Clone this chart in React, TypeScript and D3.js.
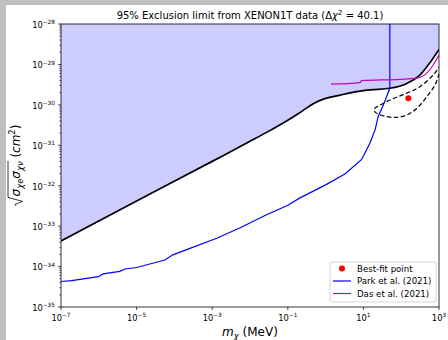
import React, { useEffect, useRef } from "react";
import * as d3 from "d3";

const W = 448;
const H = 340;
const FONT = "DejaVu Sans";

// Exclusion boundary (black, filled above)
const boundMass = [1e-7, 1e-5, 1e-3, 1e-2, 3.16e-2, 1e-1, 0.25, 0.5, 1, 2.4, 5.25, 15, 50, 141, 316, 575, 1000];
const boundSigma = [4.27e-34, 4.2e-33, 4.0e-32, 1.25e-31, 2.24e-31, 4.17e-31, 7.2e-31, 1.1e-30, 1.45e-30, 1.74e-30, 2.04e-30, 2.34e-30, 2.57e-30, 3.39e-30, 5.5e-30, 1.1e-29, 2.34e-29];

// Park et al. (2021)
const parkMass = [1e-7, 1.9e-7, 9.8e-7, 1.29e-6, 3.6e-6, 4.9e-6, 1e-5, 5.6e-5, 9.1e-5, 2.57e-4, 1.32e-3, 5.5e-3, 2.34e-2, 0.1, 0.21, 1, 3.24, 9.0, 14.8, 20.4, 24.5, 33.9, 50, 50];
const parkSigma = [4.27e-35, 4.47e-35, 5.62e-35, 6.6e-35, 7.6e-35, 8.7e-35, 9.5e-35, 1.45e-34, 1.95e-34, 2.82e-34, 5.0e-34, 9.1e-34, 1.78e-33, 3.3e-33, 5.0e-33, 1.05e-32, 1.95e-32, 4.47e-32, 1.12e-31, 2.4e-31, 5.1e-31, 1.0e-30, 2.57e-30, 1e-28];

// Das et al. (2021)
const dasMass = [1.39, 8.13, 9.0, 93, 257, 468, 708, 1000];
const dasSigma = [3.24e-30, 3.55e-30, 3.98e-30, 4.27e-30, 4.57e-30, 6.0e-30, 9.8e-30, 1.7e-29];

// Dashed confidence contour
const contourMass = [1413, 1019, 708, 314, 140, 50.6, 24.8, 19.1, 20.9, 24.8, 41.3, 75.9, 140, 257, 473, 783, 1019, 1259];
const contourSigma = [1.41e-29, 8.7e-30, 5.5e-30, 2.82e-30, 1.95e-30, 1.32e-30, 9.3e-31, 7.8e-31, 6.5e-31, 5.9e-31, 5.1e-31, 4.9e-31, 5.6e-31, 8.1e-31, 1.58e-30, 3.1e-30, 6.0e-30, 1.0e-29];

// Best-fit point
const bestFitMass = [155];
const bestFitSigma = [1.45e-30];

const xTickExps = [-7, -5, -3, -1, 1, 3];
const yTickExps = [-35, -34, -33, -32, -31, -30, -29, -28];
const legendLabels = ["Best-fit point", "Park et al. (2021)", "Das et al. (2021)"];
const legendColors = ["#ff0000", "#0000ff", "#bf00bf"];

type Part = { t: string; italic?: boolean; scale?: number; dy?: number };

function drawParts(g: any, parts: Part[], fs: number, startX = 0) {
  let cx = startX;
  const spans: [number, number][] = [];
  parts.forEach((p) => {
    const size = fs * (p.scale ?? 1);
    const el = g
      .append("text")
      .attr("x", cx)
      .attr("y", p.dy ?? 0)
      .attr("font-size", size)
      .attr("font-family", FONT)
      .attr("font-style", p.italic ? "italic" : "normal")
      .attr("fill", "#000")
      .style("white-space", "pre")
      .text(p.t);
    const w = (el.node() as SVGTextElement).getComputedTextLength();
    spans.push([cx, cx + w]);
    cx += w;
  });
  return { width: cx, spans };
}

export default function App() {
  const ref = useRef<SVGSVGElement>(null);

  useEffect(() => {
    const svg = d3.select(ref.current);
    svg.selectAll("*").remove();

    const L = 61, R = 439, T = 24, B = 307;
    const x = d3.scaleLog().domain([1e-7, 1e3]).range([L, R]);
    const y = d3.scaleLog().domain([1e-35, 1e-28]).range([B, T]);

    // page background
    svg.append("rect").attr("width", W).attr("height", H).attr("fill", "#bfbfbf");
    svg.append("rect").attr("x", 6).attr("y", 5).attr("width", W - 6).attr("height", H - 5).attr("fill", "#fff");

    svg.append("defs").append("clipPath").attr("id", "plotclip")
      .append("rect").attr("x", L).attr("y", T).attr("width", R - L).attr("height", B - T);

    const plot = svg.append("g").attr("clip-path", "url(#plotclip)");

    const bound = boundMass.map((m, i) => [m, boundSigma[i]] as [number, number]);
    const area = d3.area<[number, number]>()
      .x((d) => x(d[0])).y0(T).y1((d) => y(d[1])).curve(d3.curveMonotoneX);
    plot.append("path").attr("d", area(bound)!).attr("fill", "#ccccff");

    const lineMono = d3.line<[number, number]>().x((d) => x(d[0])).y((d) => y(d[1])).curve(d3.curveMonotoneX);
    const lineLin = d3.line<[number, number]>().x((d) => x(d[0])).y((d) => y(d[1]));
    const lineCR = d3.line<[number, number]>().x((d) => x(d[0])).y((d) => y(d[1])).curve(d3.curveCatmullRom.alpha(0.5));

    plot.append("path").attr("d", lineMono(bound)!).attr("fill", "none").attr("stroke", "#000").attr("stroke-width", 1.7);

    const park = parkMass.map((m, i) => [m, parkSigma[i]] as [number, number]);
    plot.append("path").attr("d", lineLin(park)!).attr("fill", "none").attr("stroke", "#0000ff").attr("stroke-width", 1.2);

    const das = dasMass.map((m, i) => [m, dasSigma[i]] as [number, number]);
    plot.append("path").attr("d", lineMono(das)!).attr("fill", "none").attr("stroke", "#bf00bf").attr("stroke-width", 1.2);

    const contour = contourMass.map((m, i) => [m, contourSigma[i]] as [number, number]);
    plot.append("path").attr("d", lineCR(contour)!).attr("fill", "none").attr("stroke", "#000")
      .attr("stroke-width", 1.2).attr("stroke-dasharray", "4.5,2.5");

    bestFitMass.forEach((m, i) => {
      plot.append("circle").attr("cx", x(m)).attr("cy", y(bestFitSigma[i])).attr("r", 3).attr("fill", "#ff0000");
    });

    // spines
    svg.append("rect").attr("x", L).attr("y", T).attr("width", R - L).attr("height", B - T)
      .attr("fill", "none").attr("stroke", "#000").attr("stroke-width", 0.8);

    // y ticks
    for (let e = -35; e < -28; e++) {
      for (let k = 2; k <= 9; k++) {
        const yy = y(k * Math.pow(10, e));
        svg.append("line").attr("x1", L - 1.7).attr("x2", L).attr("y1", yy).attr("y2", yy).attr("stroke", "#000").attr("stroke-width", 0.6);
      }
    }
    yTickExps.forEach((e) => {
      const yy = y(Math.pow(10, e));
      svg.append("line").attr("x1", L - 3).attr("x2", L).attr("y1", yy).attr("y2", yy).attr("stroke", "#000").attr("stroke-width", 0.7);
      const g = svg.append("g");
      const { width } = drawParts(g, [{ t: "10" }, { t: "\u2212" + Math.abs(e), scale: 0.7, dy: -3.6 }], 8.3);
      g.attr("transform", `translate(${55 - width},${yy + 3.8})`);
    });

    // x ticks
    xTickExps.forEach((e) => {
      const xx = x(Math.pow(10, e));
      svg.append("line").attr("x1", xx).attr("x2", xx).attr("y1", B).attr("y2", B + 3).attr("stroke", "#000").attr("stroke-width", 0.7);
      const g = svg.append("g");
      const sup = e < 0 ? "\u2212" + Math.abs(e) : String(e);
      const { width } = drawParts(g, [{ t: "10" }, { t: sup, scale: 0.7, dy: -3.6 }], 8.3);
      g.attr("transform", `translate(${xx - width / 2},${321})`);
    });

    // title
    {
      const g = svg.append("g");
      const { width } = drawParts(g, [
        { t: "95% Exclusion limit from XENON1T data (" },
        { t: "\u0394" },
        { t: "\u03c7", italic: true },
        { t: "2", scale: 0.7, dy: -4 },
        { t: " = 40.1)" },
      ], 10);
      g.attr("transform", `translate(${(L + R) / 2 - width / 2},19)`);
    }

    // x label
    {
      const g = svg.append("g");
      const { width } = drawParts(g, [
        { t: "m", italic: true },
        { t: "\u03c7", italic: true, scale: 0.7, dy: 2.5 },
        { t: " (MeV)" },
      ], 12);
      g.attr("transform", `translate(${(L + R) / 2 - width / 2},336)`);
    }

    // y label
    {
      const g = svg.append("g");
      const { width, spans } = drawParts(g, [
        { t: "\u03c3", italic: true },
        { t: "\u03c7e", italic: true, scale: 0.7, dy: 2.8 },
        { t: "\u03c3", italic: true },
        { t: "\u03c7\u03bd", italic: true, scale: 0.7, dy: 2.8 },
        { t: " (" },
        { t: "cm", italic: true },
        { t: "2", scale: 0.7, dy: -5 },
        { t: ")" },
      ], 12, 10);
      const barEnd = spans[3][1] + 0.5;
      g.append("path")
        .attr("d", `M0.5,-4 L2,-5 L5,2.5 L9,-12 L${barEnd},-12`)
        .attr("fill", "none").attr("stroke", "#000").attr("stroke-width", 0.8);
      g.attr("transform", `translate(20,${(T + B) / 2}) rotate(-90) translate(${-width / 2},0)`);
    }

    // legend
    {
      const lx = 330, ly = 262, lw = 106, lh = 40;
      svg.append("rect").attr("x", lx).attr("y", ly).attr("width", lw).attr("height", lh).attr("rx", 2)
        .attr("fill", "#fff").attr("fill-opacity", 0.8).attr("stroke", "#cccccc").attr("stroke-width", 0.8);
      const rows = [268.5, 281, 293.5];
      legendLabels.forEach((lab, i) => {
        const ry = rows[i];
        if (i === 0) {
          svg.append("circle").attr("cx", 342).attr("cy", ry).attr("r", 3).attr("fill", legendColors[i]);
        } else {
          svg.append("line").attr("x1", 333).attr("x2", 351).attr("y1", ry).attr("y2", ry)
            .attr("stroke", legendColors[i]).attr("stroke-width", 1.2);
        }
        svg.append("text").attr("x", 357).attr("y", ry + 3).attr("font-size", 8.6).attr("font-family", FONT)
          .attr("fill", "#000").text(lab);
      });
    }
  }, []);

  return (
    <div style={{ position: "absolute", left: 0, top: 0, width: W, height: H }}>
      <svg ref={ref} width={W} height={H} style={{ display: "block" }} />
    </div>
  );
}
